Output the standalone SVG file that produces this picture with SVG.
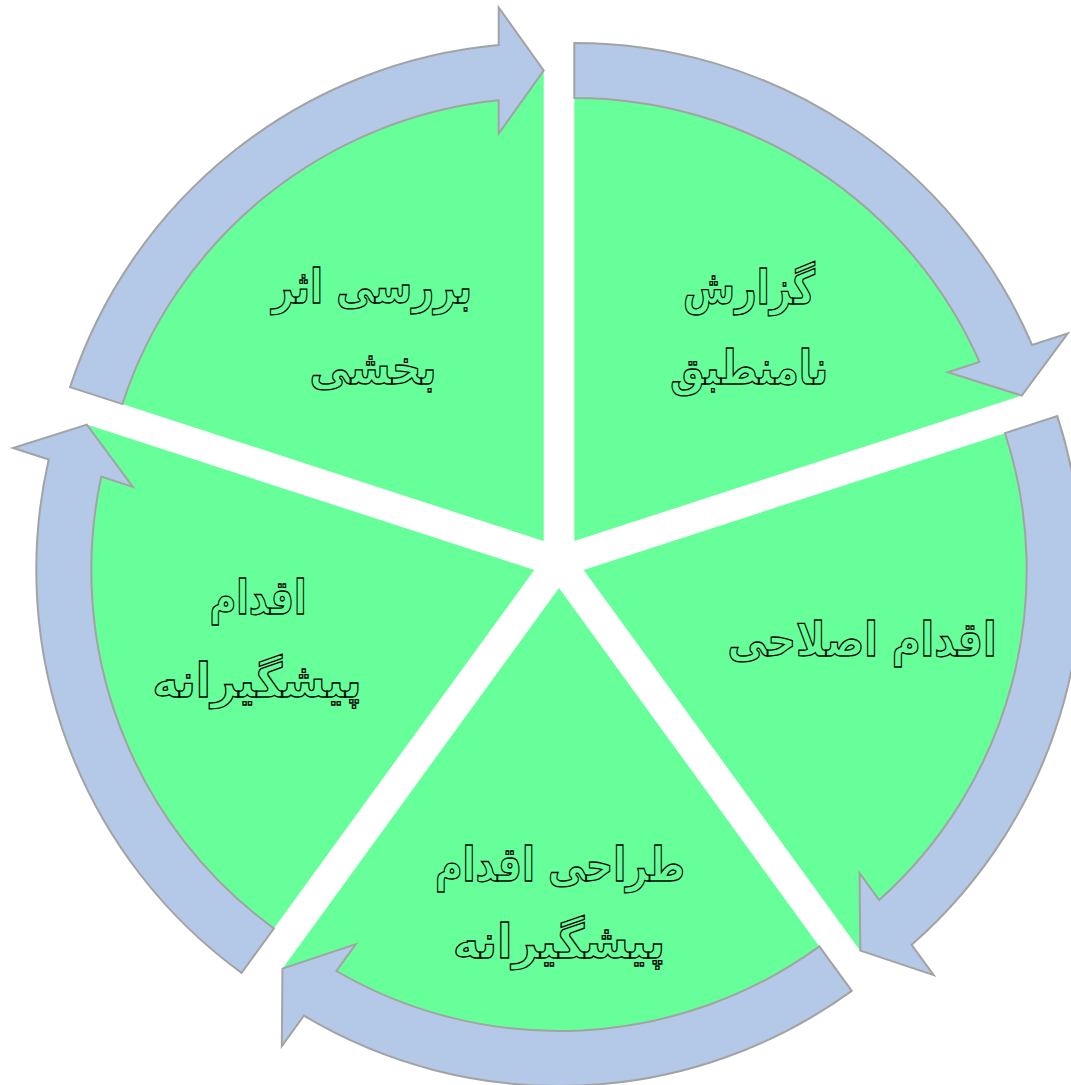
<svg xmlns="http://www.w3.org/2000/svg" width="1071" height="1085" viewBox="0 0 1071 1085">
<style>
.sector{fill:#66FF99;stroke:none}
.arrow{fill:#B4C8E7;stroke:#A3A3A3;stroke-width:2;stroke-linejoin:miter}
.lbl{font-family:"DejaVu Sans",sans-serif;font-weight:bold;font-size:47px;fill:#66FF99;stroke:#000;stroke-width:1.3;text-anchor:middle;direction:rtl}
</style>
<rect width="1071" height="1085" fill="#FFFFFF"/>
<g id="node-report">
<path class="sector" d="M574.3 541 L574.3 70.5 A470.5 470.5 0 0 1 1021.77 395.61 Z"/>
</g>
<g id="node-corrective">
<path class="sector" d="M583.7 570 L1031.17 424.61 A470.5 470.5 0 0 1 860.26 950.64 Z"/>
</g>
<g id="node-design">
<path class="sector" d="M559 588 L835.56 968.64 A470.5 470.5 0 0 1 282.44 968.64 Z"/>
</g>
<g id="node-preventive">
<path class="sector" d="M534.3 570 L257.74 950.64 A470.5 470.5 0 0 1 86.83 424.61 Z"/>
</g>
<g id="node-review">
<path class="sector" d="M543.7 541 L96.23 395.61 A470.5 470.5 0 0 1 543.7 70.5 Z"/>
</g>
<g id="connectors">
<path class="arrow" d="M574.3 43 A498 498 0 0 1 1032.08 344.94 L1067.78 333.34 L1021.77 395.61 L947.95 372.27 L979.53 362.01 A443 443 0 0 0 574.3 98 Z"/>
<path class="arrow" d="M1057.33 416.11 A498 498 0 0 1 911.63 944.79 L933.7 975.16 L860.26 950.64 L859.63 873.23 L879.16 900.09 A443 443 0 0 0 1005.02 433.1 Z"/>
<path class="arrow" d="M851.72 990.89 A498 498 0 0 1 303.89 1015.69 L281.82 1046.06 L282.44 968.64 L355.89 944.13 L336.36 970.99 A443 443 0 0 0 819.39 946.4 Z"/>
<path class="arrow" d="M241.58 972.89 A498 498 0 0 1 48.7 459.54 L13 447.94 L86.83 424.61 L132.83 486.87 L101.25 476.61 A443 443 0 0 0 273.91 928.4 Z"/>
<path class="arrow" d="M70.07 387.11 A498 498 0 0 1 498.7 45.04 L498.7 7.5 L543.7 70.5 L498.7 133.5 L498.7 100.29 A443 443 0 0 0 122.38 404.1 Z"/>
</g>
<g id="labels">
<text class="lbl" x="749" y="304" textLength="132" lengthAdjust="spacingAndGlyphs">گزارش</text>
<text class="lbl" x="749" y="384" textLength="158" lengthAdjust="spacingAndGlyphs">نامنطبق</text>
<text class="lbl" x="862" y="656" textLength="269" lengthAdjust="spacingAndGlyphs">اقدام اصلاحی</text>
<text class="lbl" x="560" y="881" textLength="250" lengthAdjust="spacingAndGlyphs">طراحی اقدام</text>
<text class="lbl" x="559" y="958" textLength="212" lengthAdjust="spacingAndGlyphs">پیشگیرانه</text>
<text class="lbl" x="258" y="614" textLength="97" lengthAdjust="spacingAndGlyphs">اقدام</text>
<text class="lbl" x="257" y="697" textLength="209" lengthAdjust="spacingAndGlyphs">پیشگیرانه</text>
<text class="lbl" x="372" y="303" textLength="200" lengthAdjust="spacingAndGlyphs">بررسی اثر</text>
<text class="lbl" x="373" y="384" textLength="127" lengthAdjust="spacingAndGlyphs">بخشی</text>
</g>
</svg>
